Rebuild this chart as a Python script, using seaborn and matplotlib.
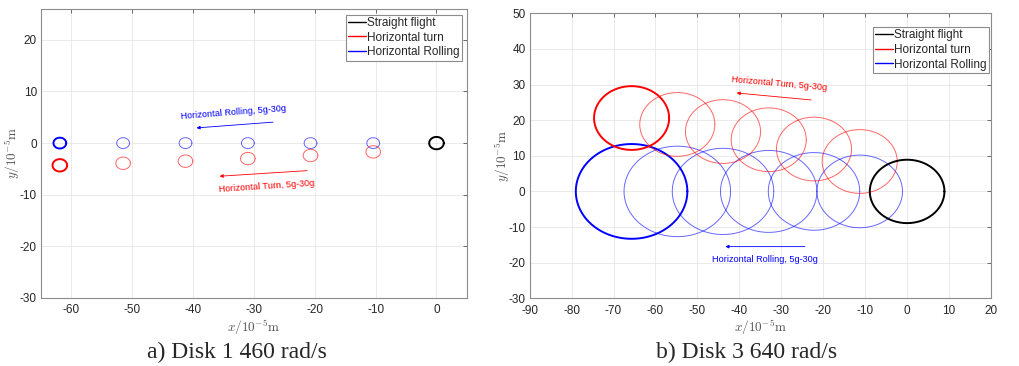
import numpy as np
import pandas as pd
import matplotlib
matplotlib.use("Agg")
import matplotlib.pyplot as plt
from matplotlib.lines import Line2D
import seaborn as sns

# ---- data (units of 1e-5 m) ----
# panel a) Disk 1, 460 rad/s
a_roll_x = [-61.9, -51.5, -41.25, -31.0, -20.7, -10.4]
a_roll_y = [0.0, 0.0, 0.0, 0.0, 0.0, 0.0]
a_roll_r = [1.05, 1.05, 1.05, 1.05, 1.05, 1.05]
a_turn_x = [-61.9, -51.5, -41.25, -31.0, -20.7, -10.4]
a_turn_y = [-4.3, -3.9, -3.5, -3.0, -2.4, -1.7]
a_turn_r = [1.2, 1.2, 1.2, 1.2, 1.2, 1.2]
a_straight = (0.0, 0.0, 1.2)

# panel b) Disk 3, 640 rad/s
b_roll_x = [-65.7, -54.8, -43.9, -33.0, -22.2, -11.3]
b_roll_y = [0.0, 0.0, 0.0, 0.0, 0.0, 0.0]
b_roll_r = [13.3, 12.7, 12.1, 11.5, 10.9, 10.2]
b_turn_x = [-65.7, -54.8, -43.9, -33.0, -22.2, -11.3]
b_turn_y = [20.6, 18.8, 16.8, 14.5, 11.9, 8.4]
b_turn_r = [8.95, 8.95, 8.95, 8.95, 8.95, 8.95]
b_straight = (0.0, 0.0, 8.9)

legend_labels = ["Straight flight", "Horizontal turn", "Horizontal Rolling"]
captions = ["a) Disk 1 460 rad/s", "b) Disk 3 640 rad/s"]

RED = "#ff0000"
BLUE = "#0000ff"
theta = np.linspace(0, 2 * np.pi, 200)


def circle_frame(xs, ys, rs):
    rows = []
    for i, (cx, cy, r) in enumerate(zip(xs, ys, rs)):
        rows.append(pd.DataFrame({"x": cx + r * np.cos(theta),
                                  "y": cy + r * np.sin(theta),
                                  "id": i}))
    return pd.concat(rows, ignore_index=True)


def draw_orbits(ax, xs, ys, rs, color):
    df = circle_frame(xs, ys, rs)
    # first (final state) circle drawn bold, the rest thin and faded
    sns.lineplot(data=df[df["id"] == 0], x="x", y="y", units="id",
                 estimator=None, sort=False, color=color, lw=1.4, ax=ax)
    rest = df[df["id"] > 0]
    if not rest.empty:
        sns.lineplot(data=rest, x="x", y="y", units="id",
                     estimator=None, sort=False, color=color, lw=0.7,
                     alpha=0.6, ax=ax)


def style_axes(ax, xlim, ylim, xticks, yticks, leg_anchor, ylab_x):
    ax.set_xlim(*xlim)
    ax.set_ylim(*ylim)
    ax.set_xticks(xticks)
    ax.set_yticks(yticks)
    ax.grid(True, color="#e6e6e6", lw=0.6)
    ax.set_axisbelow(True)
    for sp in ax.spines.values():
        sp.set_visible(True)
        sp.set_color("#8c8c8c")
        sp.set_linewidth(0.8)
    ax.tick_params(direction="in", length=3, width=0.6, color="#555555",
                   labelsize=8.5, labelcolor="#262626", top=True, right=True,
                   pad=3)
    ax.tick_params(axis="x", pad=4.5)
    ax.set_xlabel(r"$x/10^{-5}\mathrm{m}$", fontsize=9.5, color="#555555")
    ax.set_ylabel(r"$y/10^{-5}\mathrm{m}$", fontsize=9.5, color="#555555")
    ax.xaxis.set_label_coords(0.5, -0.069)
    ax.yaxis.set_label_coords(ylab_x, 0.5)
    handles = [Line2D([], [], color="black", lw=1),
               Line2D([], [], color=RED, lw=1),
               Line2D([], [], color=BLUE, lw=1)]
    leg = ax.legend(handles, legend_labels, loc="upper right",
                    bbox_to_anchor=leg_anchor, fontsize=8.5,
                    frameon=True, fancybox=False, edgecolor="#8c8c8c",
                    framealpha=1, handlelength=1.5, handletextpad=0.1,
                    borderpad=0.2, labelspacing=0.22, borderaxespad=0)
    leg.get_frame().set_linewidth(0.8)


sns.set_style("white")
plt.rcParams["font.family"] = ["Liberation Sans", "DejaVu Sans"]
plt.rcParams["mathtext.fontset"] = "cm"
plt.rcParams["axes.unicode_minus"] = False

fig = plt.figure(figsize=(10.19, 3.66), dpi=100)
ax1 = fig.add_axes([0.0402, 0.1858, 0.418, 0.790])
ax2 = fig.add_axes([0.5198, 0.1850, 0.4527, 0.7787])

# ---- panel a ----
draw_orbits(ax1, a_roll_x, a_roll_y, a_roll_r, BLUE)
draw_orbits(ax1, a_turn_x, a_turn_y, a_turn_r, RED)
draw_orbits(ax1, [a_straight[0]], [a_straight[1]], [a_straight[2]], "black")
style_axes(ax1, (-65, 5), (-30, 26), np.arange(-60, 1, 10),
           np.arange(-30, 21, 10), (0.9876, 0.980), -0.044)

ax1.annotate("", xy=(-39.9, 2.9), xytext=(-26.4, 4.1),
             arrowprops=dict(arrowstyle="-|>", color=BLUE, lw=0.6,
                             mutation_scale=5))
ax1.text(-33.3, 5.9, "Horizontal Rolling, 5g-30g", color=BLUE, fontsize=6.6,
         rotation=4.4, ha="center", va="center")
ax1.annotate("", xy=(-36.1, -6.45), xytext=(-20.8, -5.3),
             arrowprops=dict(arrowstyle="-|>", color=RED, lw=0.6,
                             mutation_scale=5))
ax1.text(-27.9, -8.4, "Horizontal Turn, 5g-30g", color=RED, fontsize=6.6,
         rotation=3.8, ha="center", va="center")

# ---- panel b ----
draw_orbits(ax2, b_roll_x, b_roll_y, b_roll_r, BLUE)
draw_orbits(ax2, b_turn_x, b_turn_y, b_turn_r, RED)
draw_orbits(ax2, [b_straight[0]], [b_straight[1]], [b_straight[2]], "black")
style_axes(ax2, (-90, 20), (-30, 50), np.arange(-90, 21, 10),
           np.arange(-30, 51, 10), (0.9957, 0.952), -0.038)

ax2.annotate("", xy=(-41.3, 27.7), xytext=(-22.2, 25.6),
             arrowprops=dict(arrowstyle="-|>", color=RED, lw=0.6,
                             mutation_scale=5))
ax2.text(-30.6, 30.3, "Horizontal Turn, 5g-30g", color=RED, fontsize=6.6,
         rotation=-5, ha="center", va="center")
ax2.annotate("", xy=(-44.0, -15.5), xytext=(-23.7, -15.5),
             arrowprops=dict(arrowstyle="-|>", color=BLUE, lw=0.6,
                             mutation_scale=5))
ax2.text(-33.9, -19.2, "Horizontal Rolling, 5g-30g", color=BLUE, fontsize=6.6,
         ha="center", va="center")

# ---- captions ----
fig.text(237 / 1019, 1 - 352 / 366, captions[0], family="Liberation Serif",
         fontsize=17, ha="center", va="center")
fig.text(747 / 1019, 1 - 352 / 366, captions[1], family="Liberation Serif",
         fontsize=17, ha="center", va="center")

fig.savefig("out.png", dpi=100)
